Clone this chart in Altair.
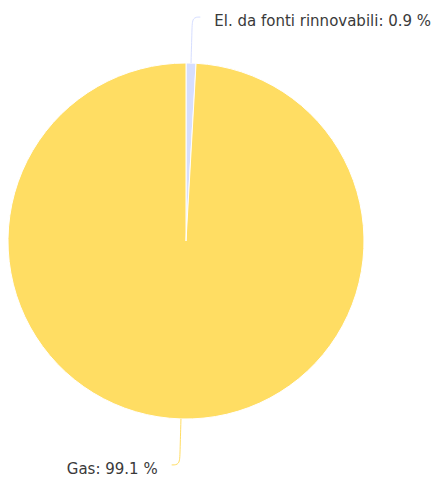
import math
import altair as alt
import pandas as pd

# ---- data ----
categories = ["El. da fonti rinnovabili", "Gas"]
values = [0.9, 99.1]
colors = ["#D6DEFF", "#FFDD63"]

# ---- layout constants (pixels in chart space) ----
W, H = 428, 469
CX, CY = 178, 233          # pie centre inside the chart
R = 178                    # pie radius
R1, R2 = 212, 224          # connector radial bend
TAIL = 8                   # connector horizontal tail
GAP = 14                   # gap between connector end and label

total = sum(values)
pie = pd.DataFrame({"cat": categories, "value": values, "idx": range(len(values))})

# connector paths and label positions derived from slice mid-angles
line_rows, label_rows = [], []
acc = 0.0
for i, (c, v) in enumerate(zip(categories, values)):
    mid = (acc + v / 2) / total * 2 * math.pi
    acc += v
    s, co = math.sin(mid), math.cos(mid)
    side = 1 if s >= 0 else -1
    p0 = (R * s, R * co)
    p1 = (R1 * s, R1 * co)
    p2 = (R2 * s, R2 * co)
    p3 = (p2[0] + side * TAIL, p2[1])
    for k, (px, py) in enumerate([p0, p1, p2, p3]):
        line_rows.append({"cat": c, "k": k, "x": px, "y": py})
    label_rows.append({
        "cat": c,
        "x": p3[0] + side * GAP,
        "y": p3[1],
        "label": f"{c}: {v} %",
        "align": "left" if side > 0 else "right",
    })
lines = pd.DataFrame(line_rows)
labels = pd.DataFrame(label_rows)

xscale = alt.Scale(domain=[-CX, W - CX], range=[0, W], nice=False, zero=False)
yscale = alt.Scale(domain=[CY - H, CY], range=[H, 0], nice=False, zero=False)
cscale = alt.Scale(domain=categories, range=colors)

arcs = alt.Chart(pie).mark_arc(outerRadius=R, stroke="white", strokeWidth=1).encode(
    theta=alt.Theta("value:Q", stack=True),
    order=alt.Order("idx:O"),
    color=alt.Color("cat:N", scale=cscale, legend=None),
    x=alt.X(datum=0, type="quantitative", scale=xscale, axis=None),
    y=alt.Y(datum=0, type="quantitative", scale=yscale, axis=None),
)

conn = alt.Chart(lines).mark_line(interpolate="basis", strokeWidth=1).encode(
    x=alt.X("x:Q", scale=xscale, axis=None),
    y=alt.Y("y:Q", scale=yscale, axis=None),
    color=alt.Color("cat:N", scale=cscale, legend=None),
    detail="cat:N",
    order="k:O",
)

def label_layer(align):
    return alt.Chart(labels[labels["align"] == align]).mark_text(
        align=align, baseline="middle", dy=4,
        font="DejaVu Sans", fontSize=15, color="#3a3a3a"
    ).encode(
        x=alt.X("x:Q", scale=xscale, axis=None),
        y=alt.Y("y:Q", scale=yscale, axis=None),
        text="label:N",
    )

chart = alt.layer(arcs, conn, label_layer("left"), label_layer("right")).properties(
    width=W, height=H, padding=0, autosize=alt.AutoSizeParams(type="none")
).configure_view(stroke=None)

chart.save("out.html", embed_options={"renderer": "svg", "actions": False})
